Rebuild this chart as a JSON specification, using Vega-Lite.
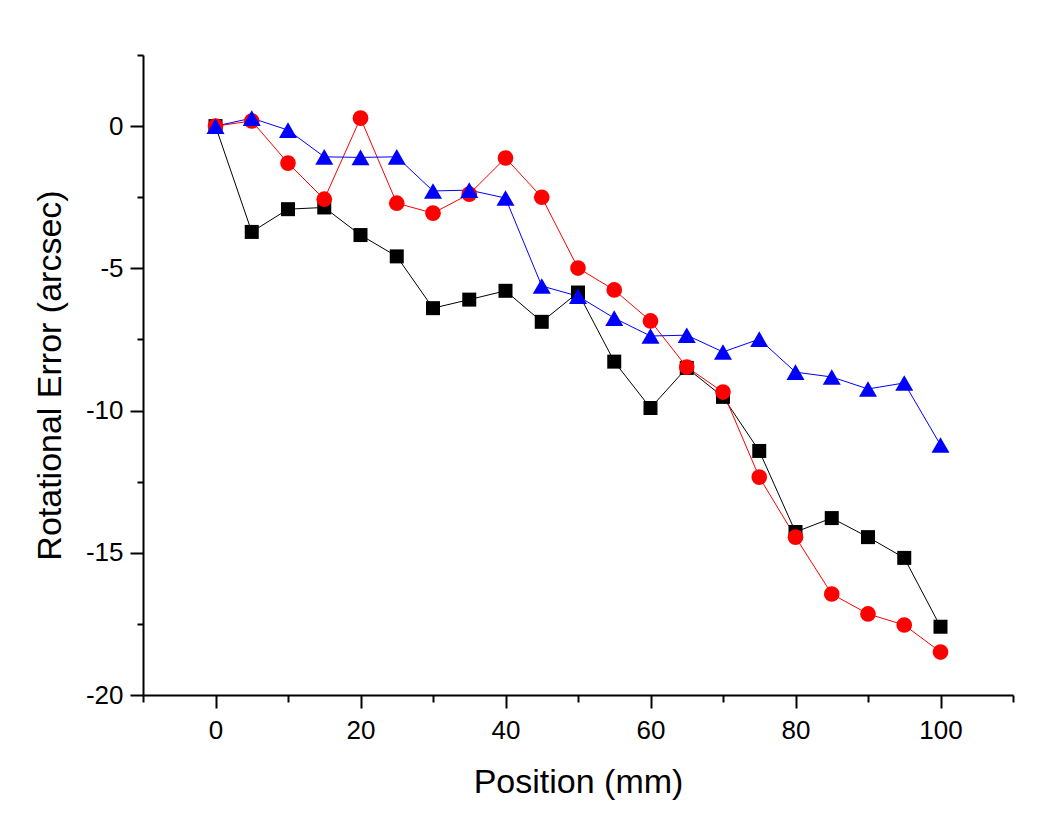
{
  "$schema": "https://vega.github.io/schema/vega-lite/v6.json",
  "width": 870,
  "height": 640,
  "autosize": "none",
  "padding": {"left": 143, "top": 55, "right": 41, "bottom": 137},
  "background": "white",
  "config": {
    "view": {"stroke": null},
    "font": "Liberation Sans"
  },
  "data": {
    "values": [
      {"x": 0, "y": 0, "s": "Roll Error"},
      {"x": 5, "y": -3.72, "s": "Roll Error"},
      {"x": 10, "y": -2.92, "s": "Roll Error"},
      {"x": 15, "y": -2.86, "s": "Roll Error"},
      {"x": 20, "y": -3.83, "s": "Roll Error"},
      {"x": 25, "y": -4.58, "s": "Roll Error"},
      {"x": 30, "y": -6.4, "s": "Roll Error"},
      {"x": 35, "y": -6.1, "s": "Roll Error"},
      {"x": 40, "y": -5.79, "s": "Roll Error"},
      {"x": 45, "y": -6.88, "s": "Roll Error"},
      {"x": 50, "y": -5.85, "s": "Roll Error"},
      {"x": 55, "y": -8.28, "s": "Roll Error"},
      {"x": 60, "y": -9.91, "s": "Roll Error"},
      {"x": 65, "y": -8.5, "s": "Roll Error"},
      {"x": 70, "y": -9.52, "s": "Roll Error"},
      {"x": 75, "y": -11.42, "s": "Roll Error"},
      {"x": 80, "y": -14.27, "s": "Roll Error"},
      {"x": 85, "y": -13.78, "s": "Roll Error"},
      {"x": 90, "y": -14.45, "s": "Roll Error"},
      {"x": 95, "y": -15.18, "s": "Roll Error"},
      {"x": 100, "y": -17.6, "s": "Roll Error"},
      {"x": 0, "y": 0, "s": "Pitch Error"},
      {"x": 5, "y": 0.18, "s": "Pitch Error"},
      {"x": 10, "y": -1.3, "s": "Pitch Error"},
      {"x": 15, "y": -2.57, "s": "Pitch Error"},
      {"x": 20, "y": 0.28, "s": "Pitch Error"},
      {"x": 25, "y": -2.71, "s": "Pitch Error"},
      {"x": 30, "y": -3.06, "s": "Pitch Error"},
      {"x": 35, "y": -2.39, "s": "Pitch Error"},
      {"x": 40, "y": -1.12, "s": "Pitch Error"},
      {"x": 45, "y": -2.5, "s": "Pitch Error"},
      {"x": 50, "y": -4.99, "s": "Pitch Error"},
      {"x": 55, "y": -5.76, "s": "Pitch Error"},
      {"x": 60, "y": -6.85, "s": "Pitch Error"},
      {"x": 65, "y": -8.47, "s": "Pitch Error"},
      {"x": 70, "y": -9.35, "s": "Pitch Error"},
      {"x": 75, "y": -12.34, "s": "Pitch Error"},
      {"x": 80, "y": -14.45, "s": "Pitch Error"},
      {"x": 85, "y": -16.45, "s": "Pitch Error"},
      {"x": 90, "y": -17.15, "s": "Pitch Error"},
      {"x": 95, "y": -17.54, "s": "Pitch Error"},
      {"x": 100, "y": -18.49, "s": "Pitch Error"},
      {"x": 0, "y": 0, "s": "Yaw Error"},
      {"x": 5, "y": 0.28, "s": "Yaw Error"},
      {"x": 10, "y": -0.14, "s": "Yaw Error"},
      {"x": 15, "y": -1.08, "s": "Yaw Error"},
      {"x": 20, "y": -1.1, "s": "Yaw Error"},
      {"x": 25, "y": -1.08, "s": "Yaw Error"},
      {"x": 30, "y": -2.28, "s": "Yaw Error"},
      {"x": 35, "y": -2.25, "s": "Yaw Error"},
      {"x": 40, "y": -2.53, "s": "Yaw Error"},
      {"x": 45, "y": -5.62, "s": "Yaw Error"},
      {"x": 50, "y": -5.98, "s": "Yaw Error"},
      {"x": 55, "y": -6.75, "s": "Yaw Error"},
      {"x": 60, "y": -7.38, "s": "Yaw Error"},
      {"x": 65, "y": -7.35, "s": "Yaw Error"},
      {"x": 70, "y": -7.94, "s": "Yaw Error"},
      {"x": 75, "y": -7.49, "s": "Yaw Error"},
      {"x": 80, "y": -8.65, "s": "Yaw Error"},
      {"x": 85, "y": -8.82, "s": "Yaw Error"},
      {"x": 90, "y": -9.24, "s": "Yaw Error"},
      {"x": 95, "y": -9.03, "s": "Yaw Error"},
      {"x": 100, "y": -11.21, "s": "Yaw Error"}
    ]
  },
  "layer": [
    {
      "mark": {"type": "line", "strokeWidth": 1},
      "encoding": {
        "x": {
          "field": "x", "type": "quantitative",
          "scale": {"domain": [-10, 110], "nice": false, "zero": false},
          "axis": {
            "orient": "bottom",
            "title": "Position (mm)", "titleFontSize": 34, "titlePadding": 22, "titleColor": "black", "titleFontWeight": "normal",
            "values": [0, 20, 40, 60, 80, 100],
            "labelFontSize": 26, "labelPadding": 9, "labelColor": "black", "labelFlush": false,
            "labelExpr": "'' + datum.value",
            "ticks": true, "tickSize": 13, "tickOpacity": 0,
            "domainColor": "black", "domainWidth": 2, "grid": false
          }
        },
        "y": {
          "field": "y", "type": "quantitative",
          "scale": {"domain": [-20, 2.5], "nice": false, "zero": false},
          "axis": {
            "orient": "left",
            "title": "Rotational Error (arcsec)", "titleFontSize": 34, "titlePadding": 18, "titleColor": "black", "titleFontWeight": "normal",
            "values": [0, -5, -10, -15, -20],
            "labelFontSize": 26, "labelPadding": 7, "labelColor": "black", "labelFlush": false,
            "labelExpr": "'' + datum.value",
            "ticks": true, "tickSize": 13, "tickOpacity": 0,
            "domainColor": "black", "domainWidth": 2, "grid": false
          }
        },
        "color": {
          "field": "s", "type": "nominal",
          "scale": {"domain": ["Roll Error", "Pitch Error", "Yaw Error"], "range": ["#000000", "#FF0000", "#0000FF"]},
          "legend": null
        }
      }
    },
    {
      "transform": [{"filter": "datum.s === 'Roll Error'"}],
      "mark": {"type": "point", "filled": true, "size": 196, "opacity": 1, "shape": "square"},
      "encoding": {
        "x": {
          "field": "x", "type": "quantitative",
          "axis": {
            "orient": "bottom", "title": null, "labels": false, "domain": false, "grid": false,
            "values": [-10, 0, 10, 20, 30, 40, 50, 60, 70, 80, 90, 100, 110],
            "ticks": true, "tickSize": {"condition": {"test": "datum.value % 20 === 0", "value": 13}, "value": 7},
            "tickWidth": 2, "tickColor": "black"
          }
        },
        "y": {
          "field": "y", "type": "quantitative",
          "axis": {
            "orient": "left", "title": null, "labels": false, "domain": false, "grid": false,
            "values": [2.5, 0, -2.5, -5, -7.5, -10, -12.5, -15, -17.5, -20],
            "ticks": true, "tickSize": {"condition": {"test": "datum.value % 5 === 0", "value": 13}, "value": 6},
            "tickWidth": 2, "tickColor": "black"
          }
        },
        "color": {"field": "s", "type": "nominal", "legend": null}
      }
    },
    {
      "transform": [{"filter": "datum.s === 'Pitch Error'"}],
      "mark": {"type": "point", "filled": true, "size": 246, "opacity": 1, "shape": "circle"},
      "encoding": {
        "x": {"field": "x", "type": "quantitative", "axis": null},
        "y": {"field": "y", "type": "quantitative", "axis": null},
        "color": {"field": "s", "type": "nominal", "legend": null}
      }
    },
    {
      "transform": [{"filter": "datum.s === 'Yaw Error'"}],
      "mark": {"type": "point", "filled": true, "size": 324, "opacity": 1, "shape": "triangle-up"},
      "encoding": {
        "x": {"field": "x", "type": "quantitative", "axis": null},
        "y": {"field": "y", "type": "quantitative", "axis": null},
        "color": {"field": "s", "type": "nominal", "legend": null}
      }
    },
    {
      "transform": [{"filter": "datum.x > 1000"}],
      "mark": {"type": "point", "filled": true, "size": 256, "opacity": 1},
      "encoding": {
        "x": {"field": "x", "type": "quantitative", "axis": null},
        "y": {"field": "y", "type": "quantitative", "axis": null},
        "color": {"field": "s", "type": "nominal"},
        "shape": {
          "field": "s", "type": "nominal",
          "scale": {"domain": ["Roll Error", "Pitch Error", "Yaw Error"], "range": [
            "M0.625,-0.0625H10.125V0.0625H0.625ZM4.71,-0.79H6.29V0.79H4.71Z",
            "M0.625,-0.0625H10.125V0.0625H0.625ZM6.48,0L6.405,0.375L6.193,0.693L5.875,0.905L5.5,0.98L5.125,0.905L4.807,0.693L4.595,0.375L4.52,0L4.595,-0.375L4.807,-0.693L5.125,-0.905L5.5,-0.98L5.875,-0.905L6.193,-0.693L6.405,-0.375Z",
            "M0.625,-0.0625H10.125V0.0625H0.625ZM5.5,-1.06L6.75,1.06L4.25,1.06Z"
          ]},
          "legend": {
            "title": null, "orient": "none", "legendX": 554, "legendY": 5,
            "strokeColor": "black", "labelFontSize": 34,
            "padding": 7, "symbolSize": 256, "labelOffset": 86, "rowPadding": 7.5, "labelLimit": 400,
            "symbolStrokeWidth": 0
          }
        }
      }
    }
  ],
  "resolve": {"axis": {"x": "independent", "y": "independent"}}
}
